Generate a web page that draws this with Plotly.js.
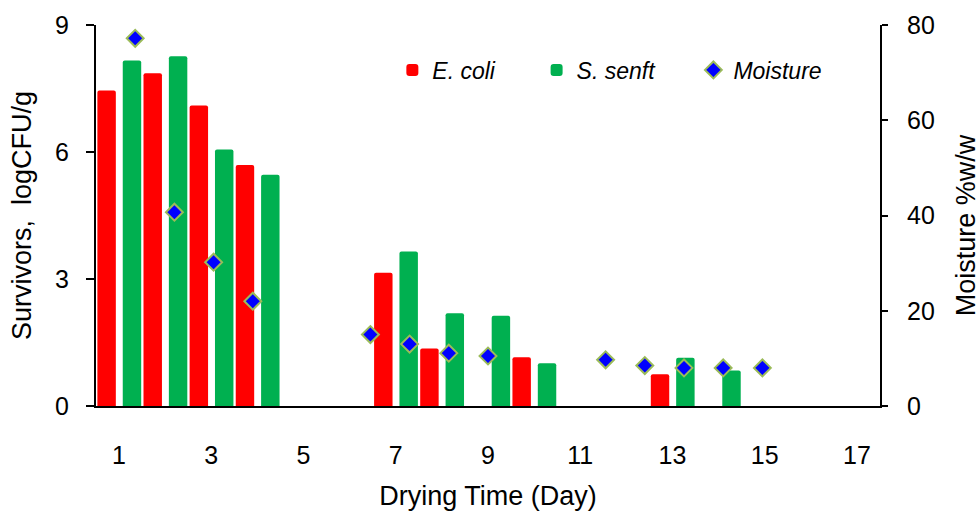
<!DOCTYPE html>
<html>
<head>
<meta charset="utf-8">
<script src="https://cdn.plot.ly/plotly-3.0.1.min.js"></script>
<style>html,body{margin:0;padding:0;background:#fff;}#chart{width:980px;height:514px;}</style>
</head>
<body>
<div id="chart"></div>
<script>
// Categories (drying day) for the bar series
const days = [1,2,3,4,5,6,7,8,9,10,11,12,13,14,15,16,17];
// Survivors, logCFU/g
const ecoli = [7.45,7.86,7.10,5.69,null,null,3.15,1.36,null,1.15,null,null,0.75,null,null,null,null];
const senft = [8.16,8.26,6.06,5.46,null,null,3.65,2.19,2.13,1.01,null,null,1.14,0.84,null,null,null];
// Moisture %w/w (plotted on its own 0-20 day scale)
const moistDays = [1,2,3,4,7,8,9,10,13,14,15,16,17];
const moisture = [77.2,40.7,30.2,22.0,15.0,13.0,11.1,10.5,9.7,8.5,8.0,8.0,8.0];
// Tick labels
const xTicks = [1,3,5,7,9,11,13,15,17];
const yTicks = [0,3,6,9];
const y2Ticks = [0,20,40,60,80];

const FONT = 'Liberation Sans, Arial, sans-serif';

const traces = [
  {type:'bar', name:'E. coli', x:days, y:ecoli, width:0.4, offset:-0.47,
   marker:{color:'#FF0000', cornerradius:2, line:{width:0}}, legend:'legend'},
  {type:'bar', name:'S. senft', x:days, y:senft, width:0.4, offset:0.08,
   marker:{color:'#00B050', cornerradius:2, line:{width:0}}, legend:'legend2'},
  {type:'scatter', mode:'markers', name:'Moisture', x:moistDays, y:moisture,
   xaxis:'x2', yaxis:'y2',
   marker:{symbol:'diamond', size:13, color:'#0000FF', line:{color:'#9BBB59', width:2}},
   legend:'legend3'}
];

const legFont = {family:FONT, size:23, color:'#000', style:'italic'};
const legBase = {orientation:'h', yanchor:'middle', xanchor:'left', y:0.882,
  bgcolor:'rgba(0,0,0,0)', font:legFont, itemwidth:30};

const layout = {
  width:980, height:514,
  margin:{l:96, r:100, t:25, b:108},
  paper_bgcolor:'#fff', plot_bgcolor:'#fff',
  font:{family:FONT, size:24, color:'#000'},
  barmode:'overlay',
  showlegend:true,
  legend:Object.assign({}, legBase, {x:0.378}),
  legend2:Object.assign({}, legBase, {x:0.562}),
  legend3:Object.assign({}, legBase, {x:0.762}),
  xaxis:{range:[0.5,17.5], tickmode:'array', tickvals:xTicks, ticktext:xTicks.map(String),
    ticks:'', showline:true, linecolor:'#000', linewidth:2, showgrid:false, zeroline:false,
    ticklabelstandoff:26, tickfont:{size:25},
    title:{text:'Drying Time (Day)', font:{size:27}, standoff:18}},
  xaxis2:{range:[0,20], overlaying:'x', anchor:'y2', visible:false, showgrid:false, zeroline:false},
  yaxis:{range:[0,9], tickmode:'array', tickvals:yTicks, ticks:'outside', ticklen:8, tickwidth:2,
    tickcolor:'#000', showline:true, linecolor:'#000', linewidth:2, showgrid:false, zeroline:false,
    ticklabelstandoff:12, tickfont:{size:25},
    title:{text:'Survivors,  logCFU/g', font:{size:27}, standoff:16}},
  yaxis2:{range:[0,80], overlaying:'y', side:'right', anchor:'x', tickmode:'array', tickvals:y2Ticks,
    ticks:'outside', ticklen:6, tickwidth:2, tickcolor:'#000', showline:true, linecolor:'#000', linewidth:2,
    showgrid:false, zeroline:false, ticklabelstandoff:14, tickfont:{size:25}},
  annotations:[
    {text:'Moisture %w/w', textangle:-90, xref:'paper', yref:'paper', x:1.11, xanchor:'center',
     y:0.475, yanchor:'middle', showarrow:false, font:{family:FONT, size:27, color:'#000'}}
  ]
};

Plotly.newPlot('chart', traces, layout, {displayModeBar:false, staticPlot:true});
</script>
</body>
</html>
